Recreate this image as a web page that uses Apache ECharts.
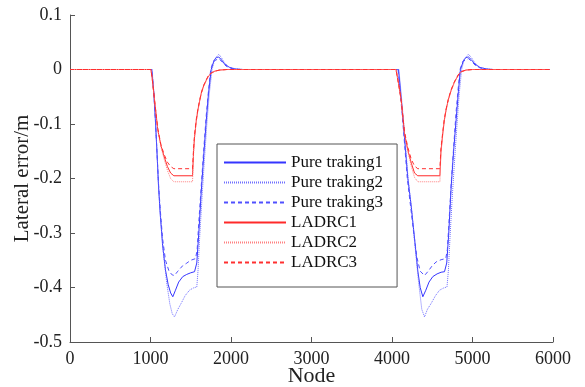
<!DOCTYPE html>
<html>
<head>
<meta charset="utf-8">
<script src="https://cdn.jsdelivr.net/npm/echarts@6/dist/echarts.min.js"></script>
<style>
  html, body { margin: 0; padding: 0; background: #fff; }
  #main { width: 585px; height: 387px; }
</style>
</head>
<body>
<div id="main"></div>
<script>
// tick labels
var xTicks = [0, 1000, 2000, 3000, 4000, 5000, 6000];
var yTicks = [0.1, 0, -0.1, -0.2, -0.3, -0.4, -0.5];

var seriesNames = ['Pure traking1', 'Pure traking2', 'Pure traking3', 'LADRC1', 'LADRC2', 'LADRC3'];

// [node, lateral error]
var pure1 = [[0,0],[1015,0],[1040,-0.04],[1060,-0.09],[1080,-0.15],[1100,-0.215],[1120,-0.264],[1150,-0.322],[1186,-0.368],[1220,-0.395],[1250,-0.41],[1277,-0.417],[1310,-0.405],[1350,-0.39],[1401,-0.38],[1450,-0.376],[1500,-0.373],[1547,-0.371],[1575,-0.355],[1600,-0.3],[1630,-0.225],[1660,-0.16],[1692,-0.095],[1720,-0.045],[1754,0],[1790,0.017],[1820,0.022],[1848,0.023],[1880,0.018],[1920,0.01],[1980,0.004],[2050,0.001],[2150,0],
  [4080,0],[4100,-0.03],[4130,-0.08],[4155,-0.125],[4197,-0.2],[4238,-0.25],[4280,-0.31],[4321,-0.37],[4350,-0.4],[4383,-0.417],[4420,-0.405],[4460,-0.39],[4507,-0.38],[4560,-0.375],[4610,-0.372],[4652,-0.371],[4680,-0.355],[4705,-0.3],[4735,-0.215],[4765,-0.15],[4798,-0.09],[4825,-0.04],[4850,0],[4890,0.017],[4920,0.022],[4950,0.023],[4985,0.018],[5030,0.01],[5090,0.004],[5170,0.001],[5260,0],[5960,0]];
var pure2 = [[0,0],[1020,0],[1040,-0.04],[1060,-0.09],[1080,-0.15],[1100,-0.215],[1125,-0.27],[1160,-0.335],[1200,-0.39],[1240,-0.43],[1270,-0.448],[1298,-0.454],[1340,-0.44],[1381,-0.429],[1430,-0.415],[1484,-0.405],[1530,-0.401],[1575,-0.399],[1590,-0.37],[1610,-0.31],[1640,-0.235],[1670,-0.165],[1700,-0.1],[1730,-0.045],[1765,0],[1800,0.02],[1848,0.028],[1880,0.022],[1920,0.012],[1980,0.004],[2060,0.001],[2150,0],
  [4085,0],[4105,-0.03],[4135,-0.08],[4160,-0.125],[4200,-0.2],[4245,-0.26],[4290,-0.33],[4330,-0.39],[4370,-0.44],[4404,-0.454],[4440,-0.44],[4487,-0.429],[4540,-0.415],[4590,-0.405],[4640,-0.401],[4683,-0.399],[4700,-0.37],[4720,-0.31],[4748,-0.235],[4778,-0.165],[4808,-0.1],[4835,-0.045],[4865,0],[4900,0.02],[4950,0.028],[4985,0.022],[5030,0.012],[5090,0.004],[5170,0.001],[5260,0],[5960,0]];
var pure3 = [[0,0],[1015,0],[1040,-0.04],[1060,-0.09],[1080,-0.15],[1100,-0.21],[1120,-0.255],[1150,-0.31],[1186,-0.35],[1230,-0.37],[1270,-0.377],[1298,-0.378],[1340,-0.37],[1400,-0.36],[1443,-0.356],[1500,-0.35],[1560,-0.347],[1580,-0.33],[1600,-0.28],[1630,-0.215],[1660,-0.15],[1692,-0.085],[1720,-0.04],[1748,0],[1780,0.015],[1848,0.02],[1890,0.014],[1940,0.006],[2000,0.002],[2100,0],
  [4075,0],[4095,-0.03],[4125,-0.08],[4150,-0.125],[4190,-0.2],[4230,-0.25],[4270,-0.3],[4310,-0.345],[4350,-0.37],[4404,-0.378],[4450,-0.37],[4500,-0.36],[4549,-0.353],[4610,-0.349],[4668,-0.347],[4688,-0.33],[4708,-0.28],[4735,-0.21],[4765,-0.145],[4795,-0.08],[4822,-0.035],[4845,0],[4880,0.015],[4950,0.02],[4995,0.014],[5045,0.006],[5110,0.002],[5200,0],[5960,0]];
var ladrc1 = [[0,0],[1005,0],[1020,-0.015],[1050,-0.056],[1090,-0.11],[1130,-0.14],[1170,-0.16],[1210,-0.178],[1250,-0.19],[1290,-0.195],[1522,-0.195],[1535,-0.15],[1547,-0.124],[1568,-0.095],[1588,-0.075],[1610,-0.058],[1630,-0.044],[1660,-0.03],[1692,-0.02],[1720,-0.012],[1754,-0.007],[1800,-0.003],[1860,-0.001],[1950,0],
  [4050,0],[4080,-0.025],[4114,-0.056],[4135,-0.087],[4155,-0.117],[4197,-0.148],[4240,-0.172],[4280,-0.19],[4320,-0.195],[4595,-0.195],[4608,-0.15],[4631,-0.117],[4650,-0.093],[4673,-0.073],[4700,-0.055],[4735,-0.038],[4770,-0.025],[4798,-0.017],[4830,-0.009],[4860,-0.004],[4920,-0.001],[5000,0],[5960,0]];
var ladrc2 = [[0,0],[1005,0],[1020,-0.015],[1050,-0.056],[1090,-0.11],[1130,-0.142],[1170,-0.165],[1210,-0.185],[1250,-0.2],[1290,-0.206],[1522,-0.206],[1535,-0.155],[1547,-0.126],[1568,-0.096],[1588,-0.076],[1610,-0.059],[1630,-0.045],[1660,-0.031],[1692,-0.021],[1720,-0.013],[1754,-0.007],[1800,-0.003],[1860,-0.001],[1950,0],
  [4050,0],[4080,-0.025],[4114,-0.056],[4135,-0.087],[4155,-0.117],[4197,-0.15],[4240,-0.178],[4280,-0.198],[4320,-0.206],[4595,-0.206],[4608,-0.155],[4631,-0.119],[4650,-0.094],[4673,-0.074],[4700,-0.056],[4735,-0.039],[4770,-0.026],[4798,-0.017],[4830,-0.009],[4860,-0.004],[4920,-0.001],[5000,0],[5960,0]];
var ladrc3 = [[0,0],[1005,0],[1020,-0.015],[1050,-0.056],[1090,-0.108],[1130,-0.138],[1170,-0.156],[1210,-0.17],[1250,-0.178],[1290,-0.182],[1522,-0.182],[1535,-0.145],[1547,-0.12],[1568,-0.092],[1588,-0.073],[1610,-0.057],[1630,-0.043],[1660,-0.029],[1692,-0.019],[1720,-0.011],[1754,-0.006],[1800,-0.003],[1860,-0.001],[1950,0],
  [4050,0],[4080,-0.025],[4114,-0.056],[4135,-0.086],[4155,-0.114],[4197,-0.143],[4240,-0.165],[4280,-0.177],[4320,-0.182],[4595,-0.182],[4608,-0.145],[4631,-0.114],[4650,-0.091],[4673,-0.072],[4700,-0.054],[4735,-0.037],[4770,-0.024],[4798,-0.016],[4830,-0.008],[4860,-0.004],[4920,-0.001],[5000,0],[5960,0]];

var seriesData = [pure1, pure2, pure3, ladrc1, ladrc2, ladrc3];
var seriesColors = ['#3535ff', '#7070ff', '#5050ff', '#ff2a2a', '#ff8080', '#ff3030'];
var seriesDash = ['solid', [1, 1], [4, 3], 'solid', [1, 1], [4, 3]];

var serif = 'Liberation Serif';

var chart = echarts.init(document.getElementById('main'));

var series = seriesNames.map(function (name, i) {
  return {
    name: name,
    type: 'line',
    data: seriesData[i],
    symbol: 'none',
    animation: false,
    lineStyle: { color: seriesColors[i], width: 1, type: seriesDash[i] },
    itemStyle: { color: seriesColors[i] }
  };
});

chart.setOption({
  backgroundColor: '#fff',
  animation: false,
  textStyle: { fontFamily: serif },
  grid: { left: 70, right: 32, top: 15, bottom: 45, outerBoundsMode: 'none', containLabel: false },
  legend: {
    data: seriesNames,
    orient: 'vertical',
    left: 217,
    top: 144,
    itemWidth: 62,
    itemHeight: 14,
    itemGap: 3,
    padding: [10, 14, 16, 6],
    backgroundColor: '#fff',
    borderColor: '#555',
    borderWidth: 1,
    itemStyle: { opacity: 0 },
    textStyle: { fontFamily: serif, fontSize: 17, color: '#111' }
  },
  xAxis: {
    type: 'value',
    min: 0,
    max: 6000,
    interval: 1000,
    name: 'Node',
    nameLocation: 'middle',
    nameGap: 23,
    nameMoveOverlap: false,
    nameTextStyle: { fontFamily: serif, fontSize: 22, color: '#222' },
    axisLine: { onZero: false, lineStyle: { color: '#555', width: 1 } },
    axisTick: { inside: true, length: 5, lineStyle: { color: '#555' } },
    axisLabel: {
      fontFamily: serif, fontSize: 18, color: '#222', margin: 8,
      formatter: function (v) { return xTicks.indexOf(v) >= 0 ? String(v) : ''; }
    },
    splitLine: { show: false }
  },
  yAxis: {
    type: 'value',
    min: -0.5,
    max: 0.1,
    interval: 0.1,
    name: 'Lateral error/m',
    nameLocation: 'middle',
    nameGap: 37,
    nameMoveOverlap: false,
    nameTextStyle: { fontFamily: serif, fontSize: 21, color: '#222' },
    axisLine: { show: true, onZero: false, lineStyle: { color: '#555', width: 1 } },
    axisTick: { show: true, inside: true, length: 5, lineStyle: { color: '#555' } },
    axisLabel: {
      fontFamily: serif, fontSize: 18, color: '#222', margin: 8,
      formatter: function (v) {
        var r = Math.round(v * 10) / 10;
        var t = yTicks.filter(function (k) { return Math.abs(k - r) < 1e-9; });
        return t.length ? (r === 0 ? '0' : r.toFixed(1)) : '';
      }
    },
    splitLine: { show: false }
  },
  series: series
});
</script>
</body>
</html>
